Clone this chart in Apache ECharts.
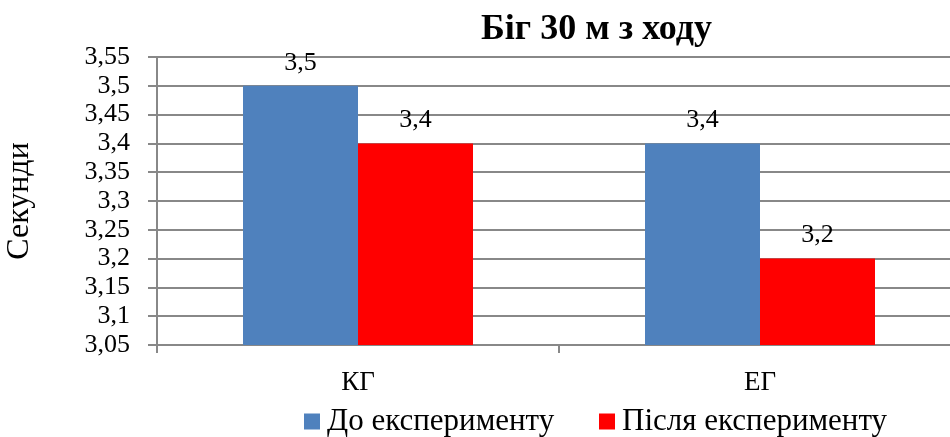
<!DOCTYPE html>
<html>
<head>
<meta charset="utf-8">
<script src="https://cdn.jsdelivr.net/npm/echarts@6/dist/echarts.min.js"></script>
<style>
  html, body { margin: 0; padding: 0; background: #fff; }
  #chart { width: 950px; height: 437px; }
</style>
</head>
<body>
<div id="chart"></div>
<script>
// Running 30 m with a flying start, seconds, by group
const chartTitle = 'Біг 30 м з ходу';
const axisName = 'Секунди';
const categories = ['КГ', 'ЕГ'];
const seriesNames = ['До експерименту', 'Після експерименту'];
const beforeValues = [3.5, 3.4];
const afterValues = [3.4, 3.2];
const yMin = 3.05;
const yMax = 3.55;
const yStep = 0.05;

const FONT = '"Liberation Serif", "Times New Roman", serif';
const fmt = v => String(+(+v).toFixed(2)).replace('.', ',');

const chart = echarts.init(document.getElementById('chart'), null, { renderer: 'canvas' });

const labelStyle = {
  show: true,
  position: 'top',
  distance: 10,
  color: '#000',
  fontFamily: FONT,
  fontSize: 26,
  formatter: p => fmt(p.value)
};

const legendBase = {
  top: 401,
  icon: 'rect',
  itemWidth: 16,
  itemHeight: 16,
  textStyle: { fontFamily: FONT, fontSize: 31, color: '#000', padding: [0, 0, 0, 2] }
};

chart.setOption({
  animation: false,
  backgroundColor: '#fff',
  title: {
    text: chartTitle,
    left: 476,
    top: 7,
    textStyle: { fontFamily: FONT, fontSize: 36, fontWeight: 'bold', color: '#000' }
  },
  legend: [
    Object.assign({}, legendBase, { data: [seriesNames[0]], left: 299 }),
    Object.assign({}, legendBase, { data: [seriesNames[1]], left: 594 })
  ],
  // the plot runs past the right edge of the canvas
  grid: { left: 157, top: 57, width: 804, bottom: 92, outerBoundsMode: 'none', containLabel: false },
  xAxis: {
    type: 'category',
    data: categories,
    axisLine: { show: true, lineStyle: { color: '#888', width: 2 } },
    axisTick: { show: true, length: 8, lineStyle: { color: '#888', width: 2 } },
    axisLabel: { fontFamily: FONT, fontSize: 27, color: '#000', margin: 24 },
    splitLine: { show: false }
  },
  yAxis: {
    type: 'value',
    min: yMin,
    max: yMax,
    interval: yStep,
    name: axisName,
    nameLocation: 'middle',
    nameRotate: 90,
    nameGap: 121,
    nameTextStyle: { fontFamily: FONT, fontSize: 32, color: '#000' },
    axisLine: { show: true, lineStyle: { color: '#888', width: 2 } },
    axisTick: { show: true, length: 9, lineStyle: { color: '#888', width: 2 } },
    axisLabel: { fontFamily: FONT, fontSize: 26, color: '#000', margin: 27, formatter: fmt },
    splitLine: { show: true, lineStyle: { color: '#888', width: 2 } }
  },
  series: [
    {
      name: seriesNames[0],
      type: 'bar',
      data: beforeValues,
      barWidth: 115,
      barGap: '0%',
      itemStyle: { color: '#4F81BD' },
      label: labelStyle
    },
    {
      name: seriesNames[1],
      type: 'bar',
      data: afterValues,
      barWidth: 115,
      barGap: '0%',
      itemStyle: { color: '#FF0000' },
      label: labelStyle
    }
  ]
});
</script>
</body>
</html>
